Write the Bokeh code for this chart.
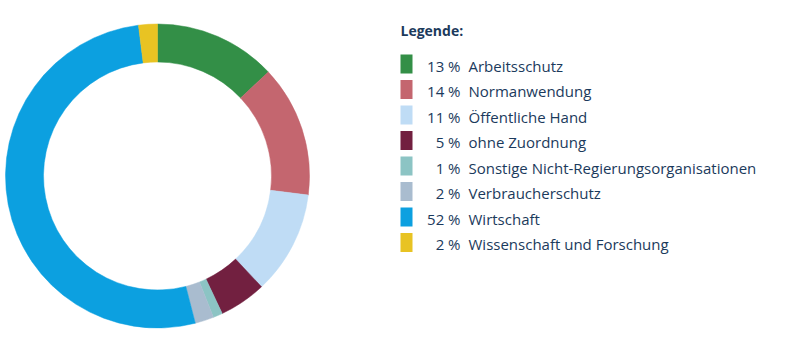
from math import pi
from bokeh.plotting import figure
from bokeh.models import Range1d, ColumnDataSource
from bokeh.core.properties import value
from bokeh.embed import file_html
from bokeh.resources import INLINE

categories = ["Arbeitsschutz", "Normanwendung", "Öffentliche Hand", "ohne Zuordnung",
              "Sonstige Nicht-Regierungsorganisationen", "Verbraucherschutz",
              "Wirtschaft", "Wissenschaft und Forschung"]
shares = [13, 14, 11, 5, 1, 2, 52, 2]
colors = ["#338f47", "#c4666f", "#bfdcf5", "#722040", "#8cc4c4", "#a9bccf", "#0ca0e0", "#e8c323"]
legend_title = "Legende:"

W, H = 801, 351
TEXT = "#1b3a5c"
FONT = "Open Sans"

p = figure(width=W, height=H, x_range=Range1d(0, W), y_range=Range1d(0, H),
           output_backend="svg", toolbar_location=None, min_border=0)
p.axis.visible = False
p.grid.visible = False
p.outline_line_color = None
p.background_fill_color = "white"

def sy(y):
    return H - y

# donut
total = float(sum(shares))
starts, ends = [], []
cum = 0.0
for v in shares:
    starts.append(pi / 2 - cum / total * 2 * pi)
    cum += v
    ends.append(pi / 2 - cum / total * 2 * pi)
src = ColumnDataSource(dict(start=starts, end=ends, color=colors))
p.annular_wedge(x=157, y=sy(175.5), inner_radius=114, outer_radius=152,
                start_angle="start", end_angle="end", direction="clock",
                fill_color="color", line_color="color", line_width=0.5, source=src)

# legend
n = len(categories)
cy = [63.5 + 25.5 * i for i in range(n)]
p.rect(x=[406] * n, y=[sy(c) for c in cy], width=12, height=19,
       fill_color=colors, line_color=None)
p.text(x=[460] * n, y=[sy(c + 1.5) for c in cy], text=[f"{v} %" for v in shares],
       text_align="right", text_baseline="middle", text_color=TEXT,
       text_font=value(FONT), text_font_size="15px")
p.text(x=[468] * n, y=[sy(c + 1.5) for c in cy], text=categories,
       text_align="left", text_baseline="middle", text_color=TEXT,
       text_font=value(FONT), text_font_size="15px")
p.text(x=[400], y=[sy(29.5)], text=[legend_title], text_align="left",
       text_baseline="middle", text_color=TEXT, text_font=value(FONT),
       text_font_size="14px", text_font_style="bold")

open("out.html", "w").write(file_html(p, INLINE))
